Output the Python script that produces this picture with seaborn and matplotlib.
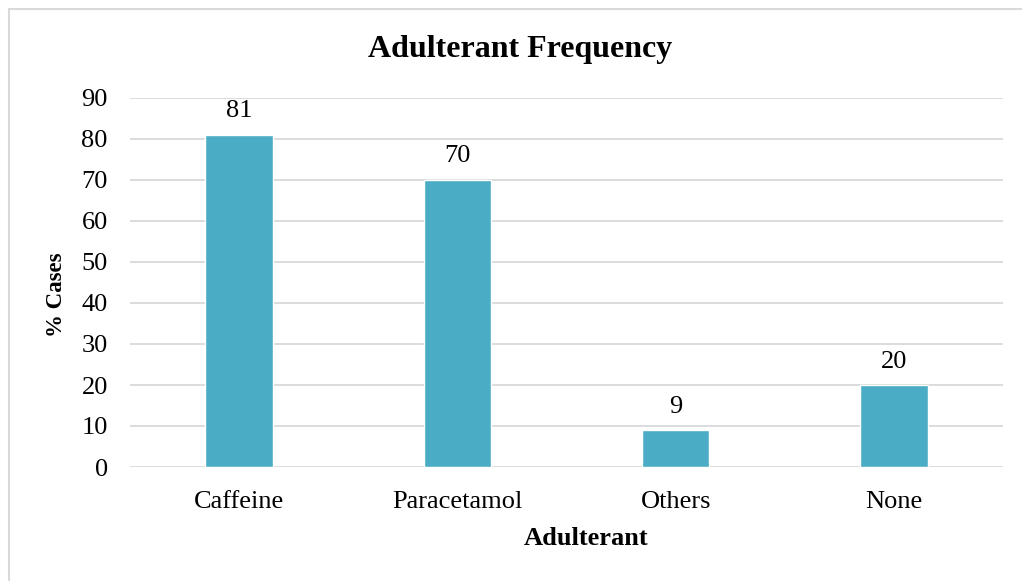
import matplotlib
matplotlib.use("Agg")
import matplotlib.pyplot as plt
import seaborn as sns
import pandas as pd
from matplotlib.patches import Rectangle

categories = ["Caffeine", "Paracetamol", "Others", "None"]
values = [81, 70, 9, 20]
yticks = [0, 10, 20, 30, 40, 50, 60, 70, 80, 90]

sns.set_theme(style="white")
plt.rcParams['font.family'] = ['Liberation Serif', 'DejaVu Serif']

df = pd.DataFrame({"Adulterant": categories, "Cases": values})

fig = plt.figure(figsize=(10.22, 5.81), dpi=100)
W, H = 1022, 581
ax = fig.add_axes([130 / W, (H - 467) / H, (1003 - 130) / W, (467 - 98) / H])

sns.barplot(data=df, x="Adulterant", y="Cases", color="#4BACC6", saturation=1,
            width=0.31, ax=ax, zorder=3)

ax.set_ylim(0, 90)
ax.set_xlim(-0.5, 3.5)
ax.set_yticks(yticks)
ax.yaxis.grid(True, color="#D9D9D9", linewidth=1.3, zorder=0)
ax.set_axisbelow(True)
for s in ax.spines.values():
    s.set_visible(False)
ax.tick_params(axis="both", length=0, labelsize=19, colors="black")
ax.tick_params(axis="x", pad=17)
ax.tick_params(axis="y", pad=16)

for c in ax.containers:
    ax.bar_label(c, labels=[str(v) for v in values], padding=9, fontsize=19, color="black")

ax.set_xlabel("Adulterant", fontsize=19, fontweight="bold", color="black")
ax.xaxis.set_label_coords((586 - 130) / 873, (467 - 545) / 369)
ax.xaxis.label.set_verticalalignment("baseline")
ax.set_ylabel("% Cases", fontsize=16.5, fontweight="bold", color="black")
ax.yaxis.set_label_coords((57 - 130) / 873, (467 - 295) / 369)
ax.yaxis.label.set_verticalalignment("center")
fig.text(520 / W, 1 - 49 / H, "Adulterant Frequency", fontsize=23, fontweight="bold",
         ha="center", va="center", color="black")

fig.patches.append(Rectangle((8.5 / W, -0.01), (W + 5) / W, (H - 8.5) / H + 0.01,
                             transform=fig.transFigure, fill=False,
                             edgecolor="#D9D9D9", linewidth=1.5))

fig.savefig("out.png", dpi=100, facecolor="white")
